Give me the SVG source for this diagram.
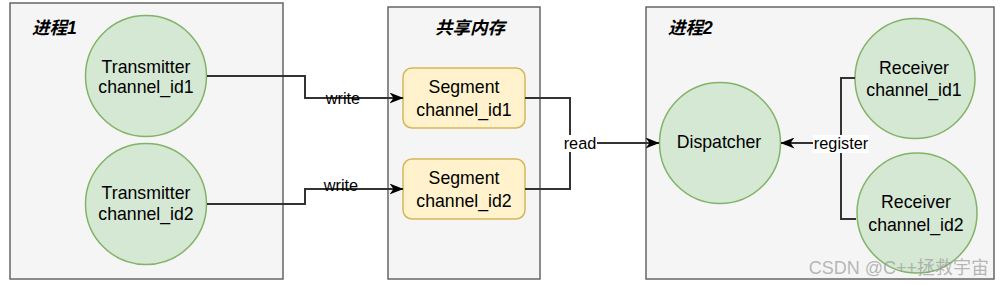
<svg xmlns="http://www.w3.org/2000/svg" width="1004" height="286" viewBox="0 0 1004 286">
<defs>
<marker id="arr" viewBox="0 0 14 11" refX="13.5" refY="5.5" markerWidth="14" markerHeight="11" markerUnits="userSpaceOnUse" orient="auto">
<path d="M0,0 L14,5.5 L0,11 L4,5.5 Z" fill="#000"/>
</marker>
<style>
.box{fill:#f5f5f5;stroke:#666;stroke-width:1.5}
.circ{fill:#d5e8d4;stroke:#82b366;stroke-width:1.5}
.seg{fill:#fff2cc;stroke:#d6b656;stroke-width:1.5}
.t{font-family:"Liberation Sans",Arial,sans-serif;font-size:17.7px;fill:#000;text-anchor:middle}
.title{font-family:"Liberation Sans","Noto Sans CJK SC",sans-serif;font-size:17.5px;font-weight:bold;font-style:italic;fill:#000}
.lbl{font-family:"Liberation Sans",Arial,sans-serif;font-size:16.3px;fill:#000;text-anchor:middle}
.edge{fill:none;stroke:#333;stroke-width:2}
</style>
</defs>
<rect width="1004" height="286" fill="#fff"/>
<g id="process1">
<rect class="box" x="10" y="3" width="273" height="276"/>
<text class="title" x="32" y="34">进程1</text>
</g>
<g id="shm">
<rect class="box" x="388" y="7" width="152" height="272"/>
<text class="title" x="435" y="34">共享内存</text>
</g>
<g id="process2">
<rect class="box" x="646" y="7" width="348" height="272"/>
<text class="title" x="668" y="34">进程2</text>
</g>
<g id="transmitter1">
<circle class="circ" cx="146" cy="76" r="60.5"/>
<text class="t" x="146" y="72.5">Transmitter</text>
<text class="t" x="146" y="92.5">channel_id1</text>
</g>
<g id="transmitter2">
<circle class="circ" cx="146" cy="204" r="60.5"/>
<text class="t" x="146" y="198.5">Transmitter</text>
<text class="t" x="146" y="219.5">channel_id2</text>
</g>
<g id="segment1">
<rect class="seg" x="403" y="68" width="122" height="60" rx="9"/>
<text class="t" x="464" y="93">Segment</text>
<text class="t" x="464" y="115.5">channel_id1</text>
</g>
<g id="segment2">
<rect class="seg" x="403" y="159" width="122" height="60" rx="9"/>
<text class="t" x="464" y="184">Segment</text>
<text class="t" x="464" y="207">channel_id2</text>
</g>
<g id="dispatcher">
<circle class="circ" cx="720" cy="143" r="60.5"/>
<text class="t" x="719" y="148">Dispatcher</text>
</g>
<g id="receiver1">
<circle class="circ" cx="915" cy="78.5" r="60"/>
<text class="t" x="914" y="74">Receiver</text>
<text class="t" x="914" y="96">channel_id1</text>
</g>
<g id="receiver2">
<circle class="circ" cx="917" cy="213" r="60"/>
<text class="t" x="916" y="208">Receiver</text>
<text class="t" x="916" y="230.5">channel_id2</text>
</g>
<g id="connectors">
<path class="edge" d="M207,76 H305 V98 H403" marker-end="url(#arr)"/>
<text class="lbl" x="343" y="103.5">write</text>
<path class="edge" d="M207,204 H305 V189 H403" marker-end="url(#arr)"/>
<text class="lbl" x="341" y="190.5">write</text>
<path class="edge" d="M525,98 H570 V189 H525"/>
<path class="edge" d="M570,143 H659" marker-end="url(#arr)"/>
<rect x="563" y="135" width="34" height="17" fill="#fff"/>
<text class="lbl" x="580" y="149.3">read</text>
<path class="edge" d="M855,78 H841 V219 H856"/>
<path class="edge" d="M841,143 H781" marker-end="url(#arr)"/>
<rect x="813" y="135" width="56" height="18" fill="#fff"/>
<text class="lbl" x="841" y="148.7">register</text>
</g>
<text x="989" y="274" font-family="Liberation Sans,Noto Sans CJK SC,sans-serif" font-size="18" fill="#999" fill-opacity="0.7" text-anchor="end">CSDN @C++拯救宇宙</text>
</svg>
